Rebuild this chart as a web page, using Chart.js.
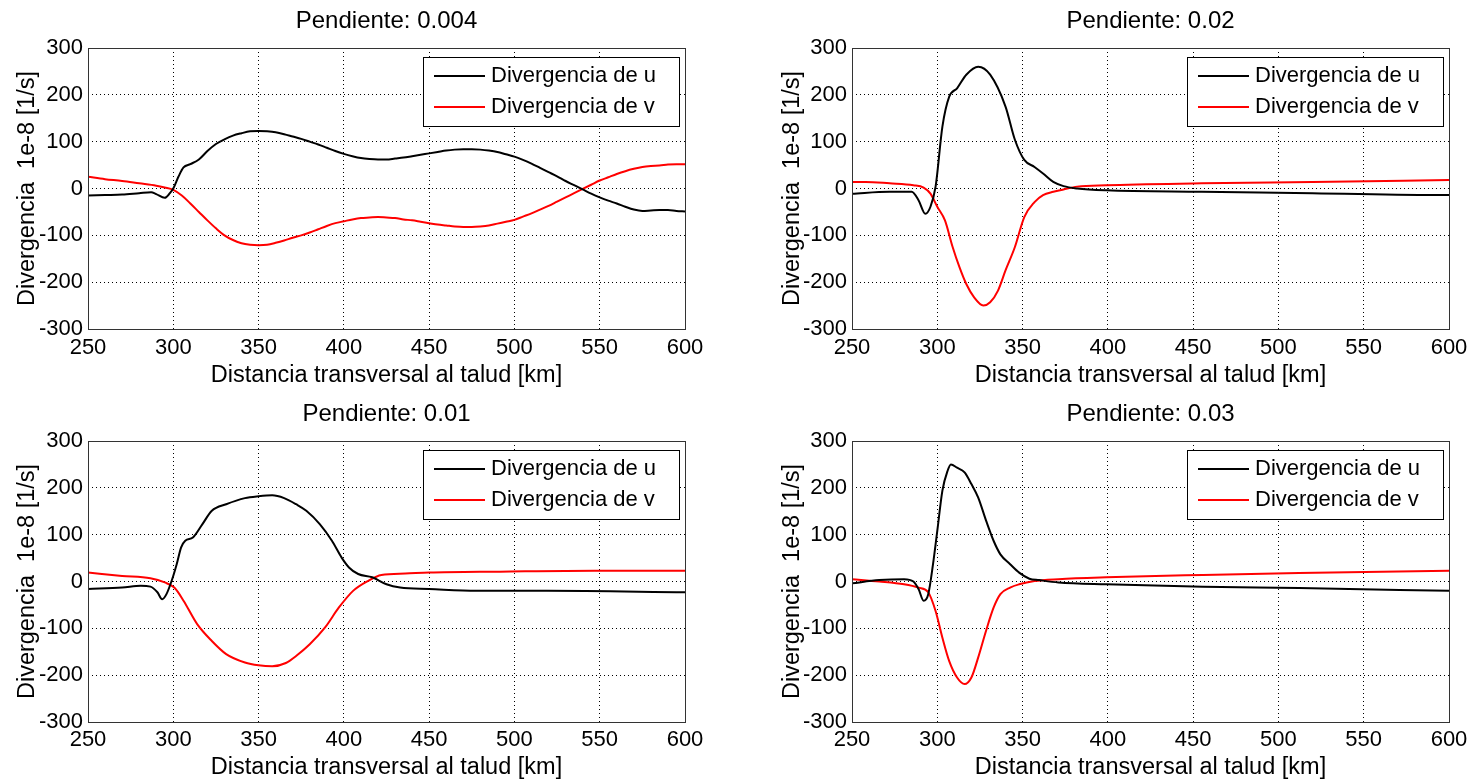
<!DOCTYPE html>
<html><head><meta charset="utf-8">
<script src="https://cdn.jsdelivr.net/npm/chart.js@4.4.1/dist/chart.umd.min.js"></script>
<style>
html,body{margin:0;padding:0;background:#fff;}
#wrap{position:relative;width:1476px;height:784px;background:#fff;}
canvas{position:absolute;}
</style></head><body><div id="wrap">
<canvas id="c1" width="738" height="392" style="left:0;top:0"></canvas>
<canvas id="c2" width="738" height="392" style="left:738px;top:0"></canvas>
<canvas id="c3" width="738" height="392" style="left:0;top:392px"></canvas>
<canvas id="c4" width="738" height="392" style="left:738px;top:392px"></canvas>
</div>
<script>
const xTicks = [250,300,350,400,450,500,550,600];
const yTicks = [-300,-200,-100,0,100,200,300];
const titles = ['Pendiente: 0.004','Pendiente: 0.02','Pendiente: 0.01','Pendiente: 0.03'];
const seriesLabels = ['Divergencia de u','Divergencia de v'];

// Pendiente 0.004
const xu1 = [250,260,270,280,287,290,295,298,300,303,306,310,315,320,325,330,335,340,345,350,355,360,365,370,375,380,385,390,395,400,405,410,415,420,425,430,435,440,445,450,455,460,465,470,475,480,485,490,495,500,505,510,515,520,525,530,535,540,545,550,555,560,565,570,575,580,585,590,595,600];
const u1 = [-15,-14,-13,-10,-8,-12,-20,-10,0,25,45,52,62,80,95,105,113,118,122,123,122,120,116,111,106,100,94,87,80,74,69,65,63,62,62,64,66,69,72,75,78,81,83,84,84,83,81,78,73,68,61,53,44,35,26,16,7,-2,-11,-19,-26,-32,-39,-45,-48,-47,-46,-46,-48,-49];
const xv1 = [250,260,270,280,290,295,300,305,310,315,320,325,330,335,340,345,350,355,360,365,370,375,380,385,390,395,400,405,410,415,420,425,430,435,440,445,450,455,460,465,470,475,480,485,490,495,500,505,510,515,520,525,530,535,540,545,550,555,560,565,570,575,580,585,590,595,600];
const v1 = [25,20,16,11,6,2,-3,-15,-32,-50,-68,-85,-100,-110,-117,-120,-121,-120,-116,-111,-105,-100,-94,-87,-80,-74,-70,-66,-63,-62,-61,-62,-63,-66,-68,-71,-74,-77,-79,-81,-82,-82,-81,-79,-75,-71,-67,-60,-53,-45,-37,-28,-19,-10,-1,8,17,24,31,37,42,46,48,49,51,52,52];

// Pendiente 0.02
const xu2 = [250,272,285,289,293,296,299,303,307,311.6,317,324,331,340,345.5,351,357,362,368,374,382,399,455,520,597,600];
const u2 = [-11,-7,-7,-25,-54,-39,4,132,196,214,243,260,243,175,104,61,46,32,14,5,0,-4,-7,-10,-14,-14];
const xv2 = [250,258,272,286,292,296,300,304.5,309,313,317,321.5,327,331,335.6,340,345.5,351,357,362,368,374,382,399,455,520,600];
const v2 = [14,14,11,7,2,-11,-39,-68,-125,-168,-204,-232,-250,-243,-218,-175,-125,-61,-29,-14,-7,-2,4,7,11,14,18];

// Pendiente 0.01
const xu3 = [250,270,281,286.6,290.7,293.5,296,299,302,304.6,307,311.5,317,322.6,331,342,350,358,365,372,378,386,393,398.7,403,408.4,416.6,425,433,450,477.7,519,600];
const u3 = [-16,-13,-9,-11,-23,-38,-27,1,37,73,87,94,122,151,165,178,182,184,178,165,151,122,87,51,30,16,9,-6,-13,-16,-20,-20,-23];
const xv3 = [250,270,286.6,295,300.6,306,314,322.6,331,342,350,358,366,372,380,389,397,405.4,414,422,436,450,491.5,547,600];
const v3 = [19,12,7,-2,-13,-41,-91,-127,-155,-173,-179,-181,-174,-159,-134,-98,-56,-20,1,14,17,19,21,23,23];

// Pendiente 0.03
const xu4 = [250,266,280.5,286,289,292,294.7,297.5,300,303,306,308,311.6,316,320,324,328.6,333,337,342.7,348,354,359.7,371,399,455.8,512,600];
const u4 = [-4,3,5,0,-16,-41,-27,37,108,194,236,250,243,233,208,179,130,87,58,37,19,6,3,-2,-6,-11,-14,-20];
const xv4 = [250,266,280.5,289,294.7,299,303,307,311.6,316,320,324,328.6,333,337,342.7,348,357,371,399,455.8,512,600];
const v4 = [5,0,-6,-13,-23,-63,-120,-170,-205,-219,-205,-162,-105,-56,-27,-13,-6,1,5,9,14,18,23];

const FONT = '"Liberation Sans", Arial, Helvetica, sans-serif';
Chart.defaults.font.family = FONT;
Chart.defaults.color = '#000';

const boxLegend = {
  id: 'boxLegend',
  afterDraw(chart) {
    const a = chart.chartArea, ctx = chart.ctx;
    ctx.save();
    ctx.strokeStyle = '#333'; ctx.lineWidth = 1; ctx.setLineDash([]);
    const L = Math.round(a.left), T = Math.round(a.top), R = Math.round(a.right), B = Math.round(a.bottom);
    ctx.strokeRect(L + 0.5, T + 0.5, R - L, B - T);
    const bw = 256, bh = 69;
    const bx = R - 6 - bw, by = T + 9;
    ctx.fillStyle = '#fff'; ctx.fillRect(bx, by, bw, bh);
    ctx.strokeStyle = '#000'; ctx.strokeRect(bx + 0.5, by + 0.5, bw, bh);
    chart.data.datasets.forEach((ds, i) => {
      const y = by + 19 + i * 31;
      ctx.strokeStyle = ds.borderColor; ctx.lineWidth = 2;
      ctx.beginPath(); ctx.moveTo(bx + 11, y); ctx.lineTo(bx + 62, y); ctx.stroke();
      ctx.fillStyle = '#000'; ctx.font = '22px ' + FONT; ctx.textBaseline = 'middle'; ctx.textAlign = 'left';
      ctx.fillText(ds.label, bx + 68, y);
    });
    ctx.restore();
  }
};

function pts(xs, ys) { const n = Math.min(xs.length, ys.length); const o = []; for (let i = 0; i < n; i++) o.push({x: xs[i], y: ys[i]}); return o; }

function makeChart(id, title, xu, u, xv, v, A) {
  const W = 738, H = 392;
  const TS = 24, AS = 23.5, KS = 22;
  return new Chart(document.getElementById(id), {
    type: 'line',
    data: { datasets: [
      { label: seriesLabels[0], data: pts(xu, u), borderColor: '#000', borderWidth: 2, pointRadius: 0, cubicInterpolationMode: 'monotone', fill: false },
      { label: seriesLabels[1], data: pts(xv, v), borderColor: '#ff0000', borderWidth: 2, pointRadius: 0, cubicInterpolationMode: 'monotone', fill: false }
    ]},
    options: {
      responsive: false, animation: false, devicePixelRatio: 1,
      layout: { autoPadding: false, padding: { left: 0, top: 0, right: W - A.right, bottom: 0 } },
      plugins: {
        legend: { display: false }, tooltip: { enabled: false },
        title: { display: true, fullSize: false, text: title, color: '#000', font: { size: TS, weight: 'normal', lineHeight: 1.2 },
                 padding: { top: A.titleY - TS * 0.6, bottom: A.top - A.titleY - TS * 0.6 } }
      },
      scales: {
        x: { type: 'linear', min: 250, max: 600,
             afterBuildTicks: s => { s.ticks = xTicks.map(t => ({ value: t })); },
             afterFit: s => { s.height = H - A.bottom; },
             grid: { color: '#000', lineWidth: 1, drawTicks: false },
             border: { display: false, dash: [1, 3] },
             ticks: { color: '#000', font: { size: KS }, padding: A.xGap - KS * 0.6, maxRotation: 0, autoSkip: false },
             title: { display: true, text: 'Distancia transversal al talud [km]', color: '#000', font: { size: AS, lineHeight: 1.2 },
                      padding: { top: 0, bottom: (H - A.xTitleY) - AS * 0.6 } } },
        y: { type: 'linear', min: -300, max: 300,
             afterBuildTicks: s => { s.ticks = yTicks.map(t => ({ value: t })); },
             afterFit: s => { s.width = A.left; },
             grid: { color: '#000', lineWidth: 1, drawTicks: false },
             border: { display: false, dash: [1, 3] },
             ticks: { color: '#000', font: { size: KS }, padding: 5, autoSkip: false },
             title: { display: true, text: 'Divergencia  1e-8 [1/s]', color: '#000', font: { size: AS, lineHeight: 1.2 },
                      padding: { top: A.yTitleX - AS * 0.6, bottom: 0 } } }
      }
    },
    plugins: [boxLegend]
  });
}

makeChart('c1', titles[0], xu1, u1, xv1, v1, { left: 88, top: 48, right: 685, bottom: 329, titleY: 21, xGap: 19, xTitleY: 376, yTitleX: 28 });
makeChart('c2', titles[1], xu2, u2, xv2, v2, { left: 114, top: 48, right: 711, bottom: 329, titleY: 21, xGap: 19, xTitleY: 376, yTitleX: 55 });
makeChart('c3', titles[2], xu3, u3, xv3, v3, { left: 88, top: 49, right: 685, bottom: 330, titleY: 22, xGap: 18, xTitleY: 376, yTitleX: 28 });
makeChart('c4', titles[3], xu4, u4, xv4, v4, { left: 114, top: 49, right: 711, bottom: 330, titleY: 22, xGap: 18, xTitleY: 376, yTitleX: 55 });
</script>
</body></html>
